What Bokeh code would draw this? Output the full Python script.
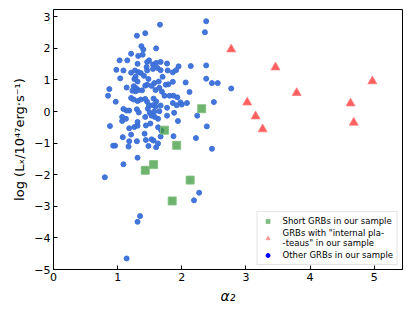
from bokeh.plotting import figure
from bokeh.models import Range1d, FixedTicker, Legend, LegendItem
from bokeh.embed import file_html
from bokeh.resources import INLINE

# Other GRBs (blue)
other_x = [2.38, 2.36, 1.66, 1.30, 1.43, 1.37, 1.40, 1.60, 1.21, 1.32, 1.39, 1.03, 1.15, 1.31, 1.46, 1.49,
           1.55, 1.60, 1.67, 1.77, 1.95, 2.14, 2.38, 0.98, 1.09, 1.21, 1.27, 1.32, 1.36, 1.46, 1.55, 1.67,
           1.78, 1.86, 1.91, 1.04, 1.41, 1.26, 1.48, 1.70, 2.06, 2.38, 2.47, 2.56, 2.77, 1.31, 1.57, 1.64,
           1.79, 1.86, 1.14, 1.23, 1.25, 1.28, 1.32, 1.38, 1.43, 1.46, 1.59, 1.65, 1.69, 0.87, 0.85, 0.97,
           1.21, 1.25, 1.31, 1.43, 1.46, 1.56, 1.60, 1.49, 1.55, 1.59, 1.67, 1.73, 1.81, 1.87, 1.93, 1.77,
           1.86, 1.92, 1.98, 2.00, 2.08, 2.50, 1.09, 1.14, 1.18, 1.30, 1.33, 1.47, 1.50, 1.57, 1.65, 1.07,
           1.13, 1.07, 1.43, 1.53, 1.58, 1.63, 1.77, 1.94, 2.24, 2.39, 0.88, 1.18, 1.26, 1.31, 1.44, 1.51,
           1.63, 1.68, 1.21, 1.42, 1.87, 1.08, 1.18, 1.30, 1.44, 1.53, 1.56, 1.67, 1.63, 2.22, 0.93, 0.96,
           1.17, 1.48, 1.60, 2.47, 1.31, 1.09, 0.80, 2.27, 2.19, 1.35, 1.31, 1.14,
           2.12, 1.88, 1.31, 1.36, 1.29, 1.28, 1.45, 1.62, 1.53, 1.75]
other_y = [2.86, 2.51, 2.75, 2.40, 2.48, 2.07, 1.96, 2.00, 1.83, 1.76, 1.80, 1.62, 1.62, 1.51, 1.57, 1.62,
           1.49, 1.54, 1.57, 1.52, 1.43, 1.44, 1.46, 1.32, 1.30, 1.23, 1.30, 1.25, 1.22, 1.30, 1.35, 1.31,
           1.30, 1.24, 1.31, 1.05, 1.13, 1.03, 1.03, 1.10, 0.92, 1.04, 0.90, 0.90, 0.73, 0.95, 0.90, 0.95,
           0.86, 0.94, 0.76, 0.66, 0.80, 0.64, 0.68, 0.67, 0.82, 0.85, 0.68, 0.75, 0.63, 0.71, 0.50, 0.31,
           0.43, 0.38, 0.33, 0.40, 0.31, 0.41, 0.32, 0.20, 0.20, 0.16, 0.19, 0.50, 0.50, 0.50, 0.45, 0.12,
           0.27, 0.20, 0.29, 0.22, 0.27, 0.30, 0.08, 0.03, 0.03, 0.07, -0.03, 0.09, -0.04, 0.00, 0.01, -0.17,
           -0.23, -0.30, -0.17, -0.13, -0.17, -0.23, -0.13, -0.30, -0.13, -0.47, -0.46, -0.53, -0.49, -0.45, -0.44, -0.38,
           -0.50, -0.60, -0.73, -0.70, -0.78, -0.81, -0.94, -0.94, -0.90, -0.88, -0.92, -0.79, -1.01, -0.84, -1.08, -1.08,
           -1.11, -1.09, -1.13, -1.18, -1.46, -1.67, -2.08, -2.57, -2.81, -3.31, -3.49, -4.65,
           0.62, -0.04, -0.33, 0.38, 0.74, 1.10, 1.41, 1.38, 0.81, 0.85]

# Short GRBs (green squares)
short_x = [2.31, 1.73, 1.92, 1.56, 1.43, 2.13, 1.85]
short_y = [0.09, -0.59, -1.07, -1.68, -1.86, -2.17, -2.83]

# GRBs with internal plateaus (red triangles)
plat_x = [2.77, 3.46, 4.97, 3.79, 3.02, 4.63, 3.15, 4.68, 3.26]
plat_y = [1.97, 1.40, 0.96, 0.59, 0.29, 0.26, -0.15, -0.35, -0.56]

x_ticks = [0, 1, 2, 3, 4, 5]
y_ticks = [-5, -4, -3, -2, -1, 0, 1, 2, 3]

FONT = "DejaVu Sans"

p = figure(width=408, height=306, output_backend="svg", toolbar_location=None,
           x_range=Range1d(0, 5.44), y_range=Range1d(-5, 3.23))
p.min_border_left = 53
p.min_border_right = 6
p.min_border_top = 9
p.min_border_bottom = 34
p.background_fill_color = "white"
p.border_fill_color = "white"
p.outline_line_color = "black"
p.outline_line_width = 1
p.grid.visible = False

for ax in (p.xaxis, p.yaxis):
    ax.axis_line_color = "black"
    ax.major_tick_in = 4
    ax.major_tick_out = 0
    ax.minor_tick_in = 0
    ax.minor_tick_out = 0
    ax.major_label_text_font = FONT
    ax.major_label_text_font_size = "11px"
    ax.major_label_text_color = "black"
    ax.axis_label_text_font = FONT
    ax.axis_label_text_color = "black"

p.xaxis.ticker = FixedTicker(ticks=x_ticks)
p.yaxis.ticker = FixedTicker(ticks=y_ticks)
p.yaxis.major_label_overrides = {t: (("\u2212" + str(-t)) if t < 0 else str(t)) for t in y_ticks}
p.xaxis.major_label_overrides = {t: str(t) for t in x_ticks}
p.xaxis.major_label_standoff = 3
p.yaxis.major_label_standoff = 3

p.xaxis.axis_label = "\u03b1\u2082"
p.xaxis.axis_label_text_font_style = "italic"
p.xaxis.axis_label_text_font_size = "14px"
p.xaxis.axis_label_standoff = 4
p.yaxis.axis_label = "log (L\u2093/10\u2074\u2077erg\u00b7s\u207b\u00b9)"
p.yaxis.axis_label_text_font_style = "normal"
p.yaxis.axis_label_text_font_size = "13px"
p.yaxis.axis_label_standoff = 4

# data
p.scatter(other_x, other_y, marker="circle", size=5, fill_color="#3a6fd8", line_color="#3a6fd8",
          fill_alpha=0.95, line_alpha=0.95)
p.scatter(short_x, short_y, marker="square", size=8, fill_color="#3d9a3d", fill_alpha=0.75,
          line_color="#80c080", line_alpha=0.9, line_width=1)
p.scatter(plat_x, plat_y, marker="triangle", size=9, fill_color="#ff2a2a", fill_alpha=0.75,
          line_color="#ff8080", line_alpha=0.8, line_width=1)

# legend proxies
nan = [float("nan")]
r1 = p.scatter(nan, nan, marker="square", size=7, fill_color="#4a9e4a", fill_alpha=0.7,
               line_color="#80c080", line_alpha=0.8)
r2 = p.scatter(nan, nan, marker="triangle", size=9, fill_color="#ff6060", fill_alpha=0.7,
               line_color="#ff9090", line_alpha=0.8)
r3 = p.scatter(nan, nan, marker="circle", size=4, fill_color="blue", line_color="blue")

legend = Legend(items=[
    LegendItem(label="Short GRBs in our sample", renderers=[r1]),
    LegendItem(label="GRBs with \"internal pla-\n-teaus\" in our sample", renderers=[r2]),
    LegendItem(label="Other GRBs in our sample", renderers=[r3]),
], location="bottom_right")
legend.label_text_font = FONT
legend.label_text_font_size = "8.5px"
legend.label_text_color = "black"
legend.label_text_line_height = 1.0
legend.glyph_width = 12
legend.glyph_height = 10
legend.label_standoff = 9
legend.spacing = 2
legend.padding = 4
legend.margin = 4
legend.border_line_color = "#cccccc"
legend.border_line_width = 1
legend.background_fill_alpha = 0.8
p.add_layout(legend)

open("out.html", "w").write(file_html(p, INLINE))
